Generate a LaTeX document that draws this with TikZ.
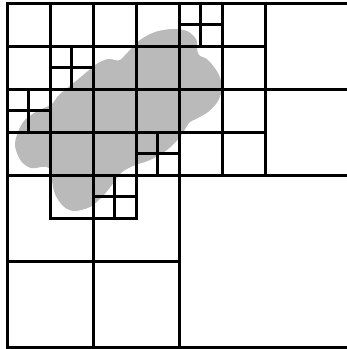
\documentclass[tikz,border=0pt]{standalone}
\usepackage{tikz}

\begin{document}
\begin{tikzpicture}[x=1pt, y=-1pt,
    cell/.style={draw, line width=3pt},
    subcell/.style={draw, line width=2.7pt},
    blob/.style={fill=black!27}]
    \useasboundingbox (0,0) rectangle (347,349);

    % the object
    \fill[blob] plot[smooth cycle, tension=0.55] coordinates {
        (15,146) (18,132) (24,121) (34,113) (44,108) (52,104) (58,96)
        (66,89) (76,81) (88,71) (98,63) (108,59) (115,60) (120,60) (128,52)
        (140,40) (155,32) (172,29) (187,31) (196,39) (197,48) (199,55) (208,60)
        (218,73) (222,87) (218,101) (208,112) (196,119) (189,123)
        (180,137) (167,150) (150,160) (133,166) (121,173) (112,185)
        (102,197) (90,207) (74,211) (63,206) (55,194) (52,181)
        (49,168) (42,167) (31,168) (21,161)};

    % the quadtree
    \begin{scope}[shift={(7,3)}, x=43pt, y=-43pt]
        \foreach \i/\j in {0/0, 4/0, 0/4, 4/4}
            \draw[cell] (\i,\j) rectangle +(4,4);
        \foreach \i/\j in {0/0, 2/0, 0/2, 2/2, 4/0, 6/0, 4/2, 6/2, 0/4, 2/4, 0/6, 2/6}
            \draw[cell] (\i,\j) rectangle +(2,2);
        \foreach \i in {0,...,5}
            \foreach \j in {0,...,3}
                \draw[cell] (\i,\j) rectangle +(1,1);
        \foreach \i/\j in {1/4, 2/4}
            \draw[cell] (\i,\j) rectangle +(1,1);
        \foreach \i/\j in {1/1, 0/2, 3/3, 4/0, 2/4}
            \draw[subcell] (\i+0.5,\j) -- +(0,1) (\i,\j+0.5) -- +(1,0);
    \end{scope}
\end{tikzpicture}
\end{document}
